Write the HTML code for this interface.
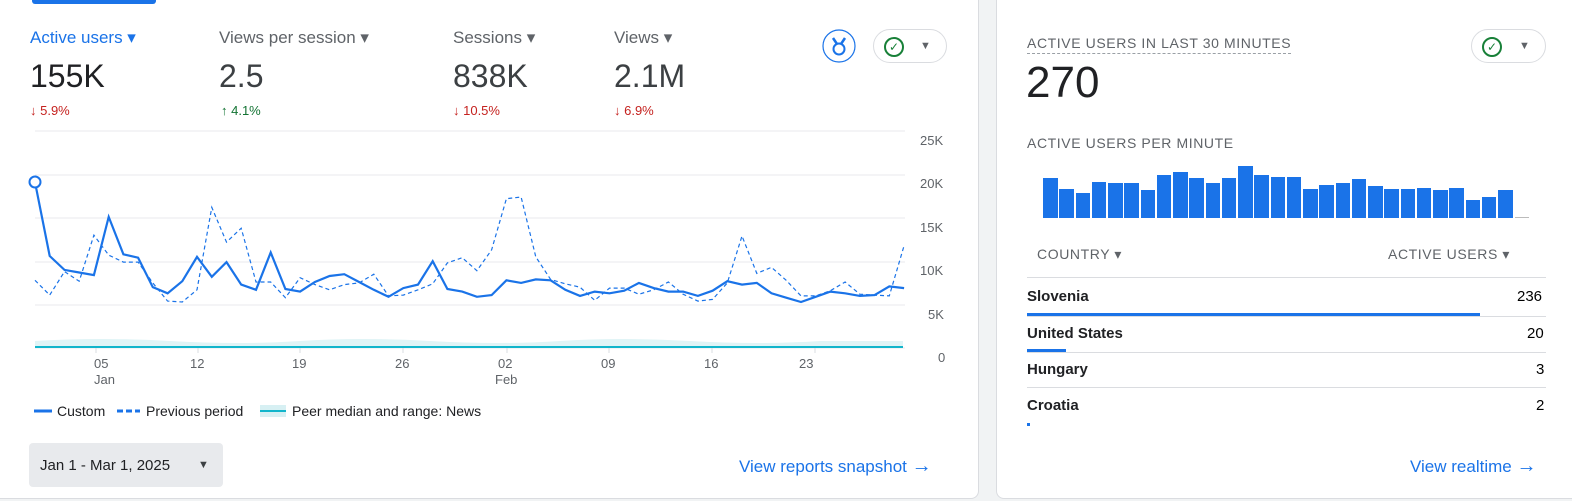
<!DOCTYPE html>
<html><head><meta charset="utf-8"><style>
body{margin:0;width:1572px;height:501px;background:#f1f3f4;font-family:"Liberation Sans",sans-serif;position:relative;overflow:hidden}
.card{position:absolute;background:#fff;border:1px solid #dadce0;border-radius:8px}
.t{position:absolute;white-space:nowrap}
.mlab{font-size:17px;color:#5f6368}
.big{font-size:32px;color:#3c4043}
.chg{font-size:13px}
.cap{font-size:14px;color:#5f6368;letter-spacing:.6px}
.row{font-size:15px;color:#202124;font-weight:bold}
</style></head><body>
<div class="card" style="left:-8px;top:-10px;width:985px;height:507px"></div>
<div style="position:absolute;left:32px;top:0;width:124px;height:4px;background:#1a73e8;border-radius:0 0 3px 3px"></div>
<div class="card" style="left:996px;top:-10px;width:590px;height:507px"></div>

<div class="t mlab" style="left:30px;top:28px;color:#1a73e8">Active users ▾</div>
<div class="t mlab" style="left:219px;top:28px">Views per session ▾</div>
<div class="t mlab" style="left:453px;top:28px">Sessions ▾</div>
<div class="t mlab" style="left:614px;top:28px">Views ▾</div>
<div class="t big" style="left:30px;top:58px;color:#202124">155K</div>
<div class="t big" style="left:219px;top:58px">2.5</div>
<div class="t big" style="left:453px;top:58px">838K</div>
<div class="t big" style="left:614px;top:58px">2.1M</div>
<div class="t chg" style="left:30px;top:103px;color:#c5221f">↓ 5.9%</div>
<div class="t chg" style="left:221px;top:103px;color:#137333">↑ 4.1%</div>
<div class="t chg" style="left:453px;top:103px;color:#c5221f">↓ 10.5%</div>
<div class="t chg" style="left:614px;top:103px;color:#c5221f">↓ 6.9%</div>

<svg style="position:absolute;left:822px;top:29px" width="34" height="34">
<circle cx="17" cy="17" r="16" fill="#fff" stroke="#1a73e8" stroke-width="1.2"/>
<path d="M11 9 L15 15 M23 9 L19 15" stroke="#1a73e8" stroke-width="2.5" fill="none"/>
<circle cx="17" cy="20" r="5.5" fill="none" stroke="#1a73e8" stroke-width="2"/>
</svg>
<div style="position:absolute;left:873px;top:29px;width:74px;height:34px;border:1px solid #dadce0;border-radius:17px;box-sizing:border-box"></div>
<div style="position:absolute;left:884px;top:37px;width:16px;height:16px;border:2px solid #188038;border-radius:50%;color:#188038;font-size:12px;text-align:center;line-height:16px">✓</div>
<div class="t" style="left:920px;top:40px;font-size:11px;color:#5f6368">▼</div>

<svg style="position:absolute;left:0;top:0" width="980" height="440">
<g stroke="#e8eaed" stroke-width="1">
<line x1="35" x2="905" y1="131" y2="131"/><line x1="35" x2="905" y1="175" y2="175"/><line x1="35" x2="905" y1="218" y2="218"/><line x1="35" x2="905" y1="262" y2="262"/><line x1="35" x2="905" y1="305" y2="305"/><line x1="35" x2="905" y1="348" y2="348"/>
</g>
<path d="M35 341 Q100 337 170 341 T300 341 T430 341 T560 341 T690 341 T820 341 L903 341 L903 347 L35 347Z" fill="#e0f4f6"/>
<line x1="35" x2="903" y1="347" y2="347" stroke="#12b5cb" stroke-width="2"/>
<g font-size="13" fill="#5f6368" font-family="Liberation Sans">
<text x="920" y="145">25K</text><text x="920" y="188">20K</text><text x="920" y="232">15K</text><text x="920" y="275">10K</text><text x="928" y="319">5K</text><text x="938" y="362">0</text>
<text x="94" y="368">05</text><text x="94" y="384">Jan</text><text x="190" y="368">12</text><text x="292" y="368">19</text><text x="395" y="368">26</text><text x="498" y="368">02</text><text x="495" y="384">Feb</text><text x="601" y="368">09</text><text x="704" y="368">16</text><text x="799" y="368">23</text>
</g>
<g stroke="#dadce0"><line x1="96" x2="96" y1="348" y2="353"/><line x1="198" x2="198" y1="348" y2="353"/><line x1="300" x2="300" y1="348" y2="353"/><line x1="403" x2="403" y1="348" y2="353"/><line x1="507" x2="507" y1="348" y2="353"/><line x1="609" x2="609" y1="348" y2="353"/><line x1="712" x2="712" y1="348" y2="353"/><line x1="815" x2="815" y1="348" y2="353"/></g>
<path id="prev" fill="none" stroke="#1a73e8" stroke-width="1.2" stroke-dasharray="4,3"/>
<path id="cur" fill="none" stroke="#1a73e8" stroke-width="2.2"/>
<circle cx="35" cy="182" r="5.5" fill="#fff" stroke="#1a73e8" stroke-width="2"/>
<line x1="34" x2="52" y1="411" y2="411" stroke="#1a73e8" stroke-width="3"/>
<text x="57" y="416" font-size="14" fill="#202124" font-family="Liberation Sans">Custom</text>
<line x1="117" x2="140" y1="411" y2="411" stroke="#1a73e8" stroke-width="3" stroke-dasharray="6,3"/>
<text x="146" y="416" font-size="14" fill="#202124" font-family="Liberation Sans">Previous period</text>
<rect x="260" y="405" width="26" height="12" fill="#d7f0f3"/>
<line x1="260" x2="286" y1="411" y2="411" stroke="#12b5cb" stroke-width="2"/>
<text x="292" y="416" font-size="14" fill="#202124" font-family="Liberation Sans">Peer median and range: News</text>
</svg>

<div style="position:absolute;left:29px;top:443px;width:194px;height:44px;background:#e8eaed;border-radius:4px"></div>
<div class="t" style="left:40px;top:457px;font-size:15px;color:#202124">Jan 1 - Mar 1, 2025</div>
<div class="t" style="left:198px;top:459px;font-size:11px;color:#3c4043">▼</div>
<div class="t" style="left:739px;top:455px;font-size:17px;color:#1a73e8">View reports snapshot <span style="font-size:20px">→</span></div>

<div class="t cap" style="left:1027px;top:35px;border-bottom:1px dashed #9aa0a6;padding-bottom:2px">ACTIVE USERS IN LAST 30 MINUTES</div>
<div class="t" style="left:1026px;top:58px;font-size:44px;color:#202124">270</div>
<div style="position:absolute;left:1471px;top:29px;width:75px;height:34px;border:1px solid #dadce0;border-radius:17px;box-sizing:border-box"></div>
<div style="position:absolute;left:1482px;top:37px;width:16px;height:16px;border:2px solid #188038;border-radius:50%;color:#188038;font-size:12px;text-align:center;line-height:16px">✓</div>
<div class="t" style="left:1519px;top:40px;font-size:11px;color:#5f6368">▼</div>
<div class="t cap" style="left:1027px;top:135px">ACTIVE USERS PER MINUTE</div>
<div id="bars"></div>
<div style="position:absolute;left:1515px;top:217px;width:14px;height:1px;background:#bbb"></div>

<div class="t cap" style="left:1037px;top:246px">COUNTRY ▾</div>
<div class="t cap" style="left:1388px;top:246px">ACTIVE USERS ▾</div>
<div style="position:absolute;left:1027px;top:277px;width:519px;height:1px;background:#dadce0"></div>
<div class="t row" style="left:1027px;top:288px">Slovenia</div><div class="t" style="left:1517px;top:288px;font-size:15px">236</div>
<div style="position:absolute;left:1027px;top:313px;width:453px;height:3px;background:#1a73e8"></div>
<div style="position:absolute;left:1027px;top:316px;width:519px;height:1px;background:#dadce0"></div>
<div class="t row" style="left:1027px;top:325px">United States</div><div class="t" style="left:1527px;top:325px;font-size:15px">20</div>
<div style="position:absolute;left:1027px;top:349px;width:39px;height:3px;background:#1a73e8"></div>
<div style="position:absolute;left:1027px;top:352px;width:519px;height:1px;background:#dadce0"></div>
<div class="t row" style="left:1027px;top:361px">Hungary</div><div class="t" style="left:1536px;top:361px;font-size:15px">3</div>
<div style="position:absolute;left:1027px;top:387px;width:519px;height:1px;background:#dadce0"></div>
<div class="t row" style="left:1027px;top:397px">Croatia</div><div class="t" style="left:1536px;top:397px;font-size:15px">2</div>
<div style="position:absolute;left:1027px;top:423px;width:3px;height:3px;background:#1a73e8"></div>
<div class="t" style="left:1410px;top:455px;font-size:17px;color:#1a73e8">View realtime <span style="font-size:20px">→</span></div>

<script>
var cur=[19.1,10.6,9,8.7,8.4,15.1,10.8,10.4,7,6.3,7.7,10.5,8.2,9.9,7.3,6.7,11,6.8,6.5,7.6,8.3,8.5,7.6,6.7,5.9,6.9,7.3,10,6.8,6.5,5.9,6.1,7.8,7.5,7.9,7.8,6.7,6,6.5,6.3,6.6,7.5,6.9,6.5,6.5,6,6.6,7.7,7.3,7.5,6.3,5.8,5.3,5.9,6.5,6.3,6,6.1,7.1,6.9];
var prev=[7.8,6.1,8.8,7.7,13,10.7,9.9,9.9,7.5,5.4,5.3,6.7,16.2,12.2,13.8,7.6,7.6,5.8,8.1,7.3,6.7,7.3,7.5,8.5,6,6.1,6.7,7.4,9.8,10.4,8.9,11.3,17.2,17.4,10.5,7.9,7.4,7,5.5,6.9,6.9,6.2,6.7,7.6,6.2,5.4,5.6,7.5,12.9,8.6,9.3,7.8,6,6,6.6,7.6,6.2,6.1,6,11.8];
function p(a){return a.map(function(v,i){return (i?'L':'M')+(35+i*14.73).toFixed(1)+' '+(348-v*8.68).toFixed(1)}).join(' ')}
document.getElementById('cur').setAttribute('d',p(cur));
document.getElementById('prev').setAttribute('d',p(prev));
var h=[87,120,132,99,102,102,123,78,69,87,102,87,51,78,84,84,120,108,102,90,111,120,120,117,123,117,153,144,123],s='';
for(var i=0;i<h.length;i++){var hh=(207-h[i])/3;s+='<div style="position:absolute;left:'+(1043+i*16.25)+'px;top:'+(218-hh)+'px;width:14.5px;height:'+hh+'px;background:#1a73e8"></div>'}
document.getElementById('bars').innerHTML=s;
</script>
</body></html>
